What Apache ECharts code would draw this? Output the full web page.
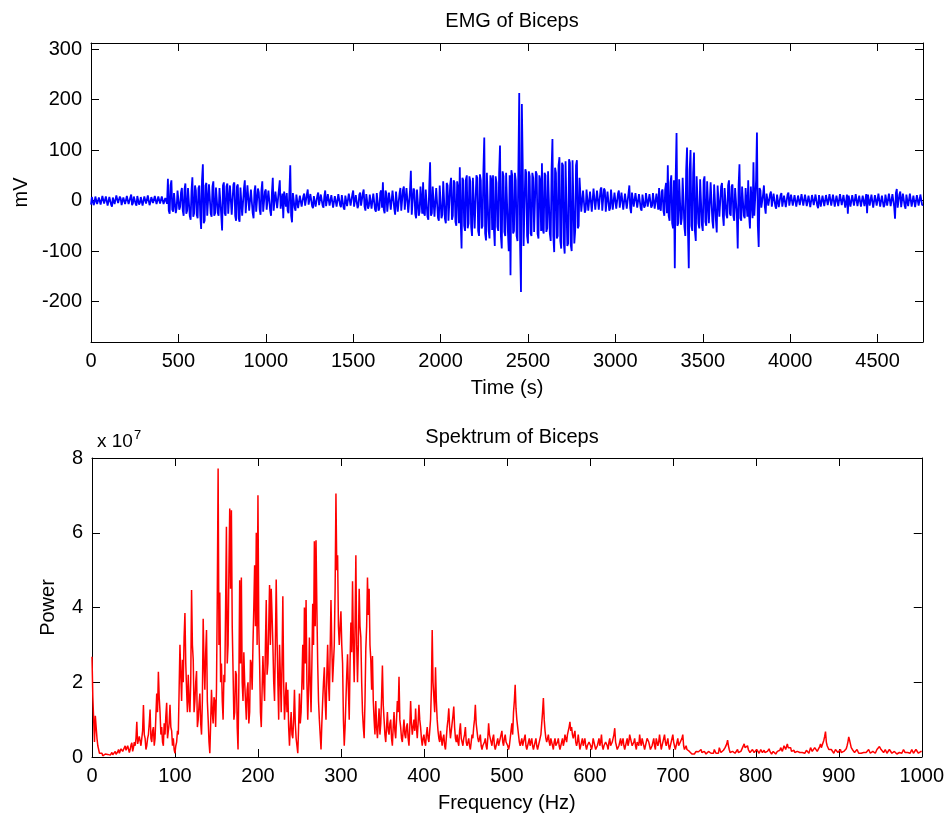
<!DOCTYPE html>
<html>
<head>
<meta charset="utf-8">
<script src="https://cdn.jsdelivr.net/npm/echarts@6/dist/echarts.min.js"></script>
<style>
  html, body { margin: 0; padding: 0; background: #fff; }
  #chart { width: 947px; height: 816px; }
</style>
</head>
<body>
<div id="chart"></div>
<script>
// ---- EMG trace (mV), one stored value every emgStep seconds, 40 values per 200 s row ----
const emgStep = 5;
const emgMv = [
  -8, 7, 6, -9, -4, 8, 9, -7, -10, 6, 7, -8, -6, 9, 10, -6, -5, 8, 8, -10, -9, 7, 5, -8, -12, 6, 9, -7, -6, 10, 11, -5, -7, 8, 4, -9, -9, 6, 8, -7,
  -6, 9, 10, -7, -8, 6, 12, -9, -5, 8, 7, -6, -10, 9, 6, -8, -4, 7, 9, -10, -11, 8, 5, -6, -7, 10, 8, -9, -3, 7, 6, -5, -8, 9, 9, -7, -5, 8, 7, -6,
  -4, 8, 6, -7, -7, 5, 5, -6, 43, -20, -26, 30, 40, -18, -22, 15, 18, -25, -15, 20, 22, -18, -12, 16, 25, -20, -30, 22, 34, -26, -20, 25, 28, -30, -38, 20, 46, -32, -25, 30,
  20, -28, -35, 25, 30, -30, -56, 40, 72, -45, -40, 30, 35, -30, -28, 32, 30, -26, -32, 28, 38, -30, -25, 26, 28, -24, -30, 25, 22, -28, -59, 30, 36, -25, -30, 28, 34, -26, -28, 30,
  30, -28, -25, 32, 36, -30, -40, 28, 32, -35, -42, 26, 25, -30, -30, 24, 40, -25, -22, 30, 28, -20, -18, 22, 20, -25, -35, 18, 30, -22, -20, 24, 16, -18, -28, 20, 38, -22, -24, 18,
  22, -18, -15, 20, 18, -20, -30, 15, 45, -20, -22, 18, 20, -15, -18, 22, 40, -16, -15, 14, -35, 18, 20, -12, 15, -20, -25, 16, 70, -30, -43, 15, 18, -14, -20, 12, 12, -15, -15, 10,
  10, -12, -12, 9, 14, -10, -9, 12, 22, -8, -10, 13, 12, -11, -15, 9, 9, -12, -11, 10, 16, -9, -8, 12, 12, -10, -14, 9, 20, -11, -9, 13, 13, -10, -12, 11, 8, -14, -16, 9,
  11, -12, -10, 13, 15, -9, -13, 11, 9, -14, -18, 10, 12, -11, -8, 14, 17, -10, -11, 12, 20, -12, -14, 11, 10, -15, -9, 12, 16, -10, -12, 14, 22, -12, -20, 13, 14, -16, -10, 12,
  15, -16, -18, 14, 12, -18, -22, 15, 18, -20, -15, 16, 20, -14, 36, -18, -25, 20, 14, -22, -20, 16, 18, -18, -16, 20, 22, -16, -28, 18, 15, -22, -20, 14, 25, -20, -18, 22, 28, -18,
  -20, 25, 22, -24, -25, 20, 59, -28, -30, 24, 20, -26, -35, 22, 25, -30, -22, 28, 30, -26, 36, -25, -30, 22, 20, -32, -38, 26, 76, -30, -25, 28, 30, -32, -35, 25, 28, -34, -40, 30,
  32, -35, -28, 38, 40, -36, -45, 35, 30, -40, -38, 32, 45, -38, -30, 40, 35, -42, -50, 38, 25, -45, 66, -40, -95, 45, 40, -50, -60, 42, 50, -55, -45, 48, 38, -52, -70, 45, 48, -55,
  -55, 50, 45, -60, -70, 52, 40, -55, -50, 60, 125, -65, -79, 55, 55, -60, -75, 50, 42, -58, 50, -55, -90, 48, 35, -52, -60, 55, 109, -70, -95, 58, 48, -62, -70, 55, 52, -60, -100, 50,
  -148, 60, 50, -65, -60, 55, 40, -70, -80, 60, 213, -90, -181, 191, 70, -90, -90, 62, 55, -70, -85, 58, 48, -65, -70, 55, 45, -62, -60, 58, 52, -66, -75, 50, 40, -60, 74, -58, -65, 55,
  50, -62, -55, 58, 60, -65, -80, 62, 122, -70, -102, 65, 55, -75, -70, 70, 86, -80, -95, 75, 70, -85, -105, 78, 80, -90, -85, 82, 75, -88, -100, 80, 82, -85, -60, 70, 80, -55, -50, 45,
  46, -22, -25, 20, 20, -24, -18, 22, 25, -20, -22, 18, 18, -22, -20, 24, 24, -18, -15, 20, 22, -18, -20, 22, 26, -20, -18, 24, 20, -22, -25, 18, 18, -20, -15, 22, 22, -18, -20, 16,
  15, -16, -18, 14, 20, -14, -12, 16, 16, -18, -20, 14, 12, -16, -15, 14, 30, -15, -25, 16, 14, -12, -10, 15, 18, -14, -12, 13, 15, -16, -20, 12, 12, -14, -10, 15, 16, -12, -14, 13,
  12, -14, -10, 15, 18, -16, -15, 14, 14, -18, 25, -15, -20, 18, 22, -20, -30, 22, 35, -25, 70, -30, -40, 35, 50, -45, -55, 40, -134, 45, 134, -50, -45, 42, 40, -48, -35, 45, 45, -52,
  -70, 60, 105, -55, -134, 60, 100, -50, -60, 55, 95, -60, -80, 48, 50, -45, -55, 42, 45, -48, -60, 40, 48, -42, -50, 38, 40, -45, -45, 36, 38, -40, -55, 32, 35, -38, -63, 30, 30, -32,
  -30, 28, 35, -30, -50, 25, 28, -28, -35, 30, 40, -26, -30, 28, 32, -30, -40, 25, 25, -28, -95, 30, 72, -35, -40, 28, 30, -30, -35, 25, 28, -32, 40, -30, -55, 28, 25, -35, 76, -30,
  -30, 40, 135, -50, -92, 25, 20, -14, -15, 12, 30, -12, -26, 14, 15, -10, -12, 13, 18, -12, -10, 14, 14, -11, -16, 12, 12, -13, -10, 11, 15, -12, -14, 10, 10, -13, -12, 12, 16, -10,
  -11, 12, 13, -10, -9, 11, 10, -12, -14, 10, 12, -9, -8, 13, 11, -10, -10, 12, 14, -11, -12, 10, 9, -13, -13, 11, 10, -9, -8, 12, 12, -10, -15, 11, 11, -12, -9, 10, 13, -11,
  -10, 11, 12, -9, -8, 13, 14, -10, -11, 12, 9, -12, -13, 10, 12, -11, -10, 13, 15, -9, -12, 11, 10, -14, -14, 12, -26, 10, 13, -12, -10, 11, 12, -10, -9, 13, 14, -11, -12, 10,
  11, -12, -13, 10, 10, -11, -12, 13, -25, 12, 14, -10, -11, 12, 9, -14, -12, 11, 13, -10, -10, 14, 15, -12, -14, 10, 11, -13, -9, 12, 12, -10, -13, 14, 16, -11, -12, 13, 10, -12,
  -36, 15, 23, -14, -15, 12, 18, -13, -12, 14, 14, -10, -16, 12, 10, -11, -13, 14, 15, -12, -11, 10, 12, -13, -14, 11, 9, -10, -12, 12, 11, -9, -8
];

// ---- Power spectrum (units of 1e7), one value every freqStep Hz, 40 values per row ----
const freqStep = 1;
const powerE7 = [
  2.68, 1.6, 1.0, 0.4, 1.1, 0.8, 0.5, 0.3, 0.2, 0.1, 0.05, 0.08, 0.1, 0.03, 0.02, 0.06, 0.08, 0.04, 0.03, 0.07, 0.1, 0.04, 0.05, 0.09, 0.12, 0.06, 0.04, 0.1, 0.15, 0.07, 0.08, 0.14, 0.2, 0.1, 0.1, 0.22, 0.25, 0.15, 0.12, 0.2,
  0.3, 0.18, 0.15, 0.3, 0.35, 0.12, 0.2, 0.32, 0.38, 0.15, 0.25, 0.4, 0.3, 0.5, 0.94, 0.35, 0.4, 0.55, 0.6, 0.3, 0.35, 0.7, 1.39, 0.6, 0.5, 0.2, 0.3, 0.5, 0.6, 0.9, 1.27, 0.5, 0.4, 0.7, 0.8, 0.3, 0.5, 1.1, 1.7, 1.2,
  2.28, 1.6, 1.2, 0.6, 0.8, 0.4, 0.3, 0.9, 0.6, 1.1, 1.45, 0.5, 0.5, 0.9, 1.4, 0.8, 0.7, 0.3, 0.5, 0.2, 0.1, 0.3, 0.4, 0.7, 0.6, 1.8, 3.0, 2.2, 1.5, 2.6, 2.0, 3.2, 3.85, 2.5, 1.8, 1.2, 2.2, 1.5, 1.2, 2.0,
  4.47, 3.0, 2.6, 1.2, 1.5, 2.0, 2.3, 0.8, 1.0, 1.4, 1.7, 0.9, 0.6, 1.5, 3.7, 2.5, 1.8, 2.8, 3.4, 1.5, 1.0, 0.4, 0.1, 0.9, 1.8, 1.2, 0.9, 1.6, 1.5, 0.8, 1.8, 4.3, 7.72, 3.0, 4.4, 2.0, 2.5, 1.5, 1.0, 2.2,
  2.0, 4.0, 6.16, 2.5, 3.0, 5.0, 6.65, 4.5, 6.6, 3.5, 2.3, 1.0, 1.2, 2.3, 2.2, 0.8, 0.2, 2.0, 4.73, 2.5, 4.8, 2.0, 1.5, 2.8, 2.0, 1.5, 1.0, 1.8, 2.0, 0.9, 1.2, 2.6, 2.5, 1.8, 3.0, 4.0, 5.13, 3.5, 6.0, 3.0,
  7.0, 3.5, 2.5, 1.2, 0.8, 1.8, 2.7, 2.0, 1.5, 3.0, 4.2, 2.2, 2.5, 3.5, 4.6, 3.0, 4.5, 3.8, 3.0, 2.0, 1.5, 3.0, 4.75, 3.2, 2.0, 1.0, 3.0, 2.2, 1.2, 2.5, 4.3, 2.0, 1.0, 1.5, 2.0, 1.2, 1.8, 0.8, 0.3, 0.8,
  1.2, 0.6, 0.5, 1.0, 1.8, 0.9, 0.5, 0.3, 0.1, 0.8, 1.7, 0.9, 1.2, 2.0, 3.0, 1.8, 4.0, 2.5, 4.2, 2.0, 1.0, 1.8, 3.2, 2.0, 1.2, 2.5, 4.1, 3.0, 5.77, 3.5, 5.8, 4.0, 2.5, 1.5, 1.0, 0.6, 0.2, 0.9, 1.5, 2.0,
  2.4, 1.5, 1.0, 2.2, 3.0, 2.0, 1.5, 2.8, 4.2, 3.0, 2.0, 2.5, 3.0, 4.5, 7.05, 5.0, 5.4, 3.5, 3.0, 3.5, 3.9, 3.0, 2.5, 1.0, 0.3, 0.8, 1.5, 2.2, 2.75, 1.8, 1.0, 2.5, 3.6, 2.8, 4.7, 3.0, 2.0, 3.5, 5.4, 3.0,
  2.0, 3.0, 4.5, 3.5, 3.2, 2.0, 1.2, 0.8, 0.5, 1.5, 2.9, 3.5, 4.8, 3.8, 4.5, 3.0, 2.6, 1.8, 2.7, 1.5, 1.0, 0.6, 1.5, 0.8, 0.5, 0.9, 1.3, 0.6, 0.9, 1.6, 2.45, 1.4, 1.0, 0.6, 0.4, 0.8, 1.2, 0.7, 0.6, 0.9,
  1.0, 0.5, 0.3, 0.8, 1.2, 0.7, 0.5, 1.0, 1.5, 1.2, 2.15, 1.0, 0.8, 0.5, 0.4, 0.7, 1.0, 0.6, 0.5, 0.8, 0.9, 0.5, 0.3, 0.8, 1.5, 0.9, 0.6, 0.8, 1.0, 0.7, 1.3, 0.8, 0.5, 0.9, 1.4, 1.0, 0.8, 0.5, 0.3, 0.5,
  0.6, 0.4, 0.3, 0.6, 0.8, 0.5, 0.4, 0.7, 1.0, 1.8, 3.4, 2.0, 1.6, 1.2, 2.4, 1.5, 1.0, 0.7, 0.5, 0.4, 0.7, 0.5, 0.3, 0.5, 0.6, 0.3, 0.2, 0.5, 0.8, 1.0, 1.3, 0.8, 0.5, 0.7, 0.9, 1.1, 1.35, 0.8, 0.5, 0.4,
  0.6, 0.4, 0.3, 0.7, 0.9, 0.5, 0.4, 0.3, 0.5, 0.6, 0.8, 0.4, 0.3, 0.4, 0.5, 0.3, 0.2, 0.4, 0.6, 0.5, 0.8, 1.0, 1.4, 0.9, 0.7, 0.5, 0.4, 0.5, 0.6, 0.3, 0.2, 0.3, 0.3, 0.4, 0.5, 0.3, 0.2, 0.5, 0.9, 0.6,
  0.5, 0.4, 0.3, 0.5, 0.6, 0.3, 0.2, 0.3, 0.4, 0.5, 0.3, 0.4, 0.5, 0.6, 0.7, 0.4, 0.3, 0.5, 0.6, 0.4, 0.4, 0.3, 0.2, 0.3, 0.5, 0.7, 0.9, 0.6, 1.2, 1.5, 1.93, 1.3, 1.0, 0.8, 0.6, 0.4, 0.3, 0.4, 0.5, 0.3,
  0.4, 0.5, 0.6, 0.3, 0.2, 0.3, 0.4, 0.5, 0.3, 0.4, 0.5, 0.3, 0.2, 0.3, 0.4, 0.5, 0.3, 0.2, 0.2, 0.4, 0.5, 0.6, 0.9, 1.2, 1.58, 1.0, 0.7, 0.5, 0.4, 0.5, 0.6, 0.4, 0.3, 0.5, 0.4, 0.3, 0.2, 0.4, 0.5, 0.3,
  0.3, 0.4, 0.5, 0.3, 0.2, 0.3, 0.4, 0.5, 0.3, 0.4, 0.6, 0.5, 0.4, 0.6, 0.7, 0.8, 0.94, 0.7, 0.8, 0.6, 0.5, 0.6, 0.7, 0.4, 0.3, 0.4, 0.6, 0.4, 0.2, 0.3, 0.4, 0.5, 0.3, 0.4, 0.5, 0.3, 0.2, 0.3, 0.3, 0.4,
  0.4, 0.3, 0.2, 0.3, 0.5, 0.4, 0.3, 0.2, 0.2, 0.3, 0.4, 0.5, 0.3, 0.4, 0.6, 0.3, 0.2, 0.3, 0.3, 0.4, 0.4, 0.3, 0.2, 0.4, 0.5, 0.3, 0.3, 0.4, 0.4, 0.6, 0.77, 0.4, 0.3, 0.2, 0.2, 0.3, 0.4, 0.5, 0.3, 0.4,
  0.5, 0.3, 0.2, 0.3, 0.4, 0.5, 0.3, 0.4, 0.6, 0.5, 0.4, 0.3, 0.3, 0.4, 0.5, 0.3, 0.2, 0.4, 0.4, 0.3, 0.6, 0.4, 0.3, 0.5, 0.5, 0.3, 0.2, 0.3, 0.4, 0.5, 0.5, 0.4, 0.3, 0.2, 0.2, 0.3, 0.4, 0.5, 0.3, 0.2,
  0.5, 0.4, 0.3, 0.4, 0.6, 0.4, 0.2, 0.3, 0.4, 0.5, 0.6, 0.4, 0.3, 0.4, 0.5, 0.3, 0.2, 0.3, 0.4, 0.5, 0.6, 0.4, 0.3, 0.2, 0.2, 0.4, 0.5, 0.3, 0.3, 0.4, 0.4, 0.5, 0.6, 0.3, 0.2, 0.2, 0.3, 0.2, 0.2, 0.15,
  0.15, 0.12, 0.1, 0.08, 0.12, 0.1, 0.08, 0.12, 0.15, 0.1, 0.1, 0.14, 0.12, 0.15, 0.2, 0.12, 0.1, 0.08, 0.15, 0.12, 0.08, 0.1, 0.12, 0.15, 0.18, 0.12, 0.1, 0.12, 0.15, 0.1, 0.2, 0.15, 0.1, 0.12, 0.15, 0.1, 0.25, 0.18, 0.12, 0.1,
  0.15, 0.18, 0.2, 0.25, 0.3, 0.35, 0.45, 0.3, 0.2, 0.12, 0.1, 0.12, 0.15, 0.1, 0.12, 0.1, 0.1, 0.15, 0.2, 0.12, 0.12, 0.1, 0.15, 0.2, 0.25, 0.3, 0.35, 0.25, 0.2, 0.22, 0.3, 0.2, 0.15, 0.12, 0.1, 0.15, 0.2, 0.15, 0.12, 0.1,
  0.15, 0.2, 0.25, 0.15, 0.1, 0.15, 0.2, 0.15, 0.12, 0.15, 0.18, 0.12, 0.1, 0.12, 0.15, 0.2, 0.22, 0.15, 0.1, 0.08, 0.12, 0.15, 0.2, 0.12, 0.08, 0.1, 0.15, 0.12, 0.1, 0.18, 0.25, 0.2, 0.15, 0.2, 0.3, 0.25, 0.2, 0.28, 0.35, 0.25,
  0.2, 0.22, 0.25, 0.15, 0.12, 0.15, 0.18, 0.12, 0.1, 0.12, 0.15, 0.18, 0.2, 0.12, 0.1, 0.08, 0.12, 0.1, 0.08, 0.1, 0.15, 0.18, 0.2, 0.15, 0.1, 0.15, 0.25, 0.2, 0.15, 0.18, 0.2, 0.25, 0.3, 0.2, 0.15, 0.18, 0.2, 0.28, 0.35, 0.25,
  0.2, 0.3, 0.45, 0.55, 0.68, 0.4, 0.3, 0.25, 0.2, 0.18, 0.15, 0.2, 0.25, 0.15, 0.1, 0.15, 0.2, 0.18, 0.15, 0.12, 0.12, 0.15, 0.2, 0.12, 0.1, 0.12, 0.15, 0.18, 0.18, 0.22, 0.3, 0.4, 0.54, 0.45, 0.35, 0.25, 0.2, 0.18, 0.15, 0.12,
  0.12, 0.15, 0.2, 0.15, 0.1, 0.12, 0.15, 0.1, 0.08, 0.1, 0.12, 0.1, 0.1, 0.12, 0.15, 0.12, 0.2, 0.15, 0.1, 0.08, 0.12, 0.15, 0.15, 0.12, 0.1, 0.15, 0.2, 0.18, 0.25, 0.28, 0.3, 0.2, 0.15, 0.18, 0.12, 0.15, 0.2, 0.15, 0.1, 0.12,
  0.15, 0.2, 0.25, 0.15, 0.1, 0.12, 0.12, 0.15, 0.2, 0.1, 0.08, 0.1, 0.1, 0.12, 0.15, 0.12, 0.1, 0.15, 0.2, 0.15, 0.12, 0.1, 0.08, 0.12, 0.15, 0.12, 0.1, 0.15, 0.2, 0.15, 0.1, 0.12, 0.15, 0.2, 0.25, 0.15, 0.1, 0.12, 0.12, 0.15,
  0.15
];

// ---- Tick labels ----
const timeTicks = [0, 500, 1000, 1500, 2000, 2500, 3000, 3500, 4000, 4500];
const mvTicks = [-200, -100, 0, 100, 200, 300];

const FONT = 'Liberation Sans, Arial, Helvetica, sans-serif';
const INK = '#000';

const emgData = emgMv.map((v, i) => [i * emgStep, v]);
const powerData = powerE7.map((v, i) => [i * freqStep, v]);

const lineStyle = { color: INK, width: 1 };
const tickStyle = { show: true, inside: true, length: 8, lineStyle: { color: INK, width: 1 } };
const labelStyle = { color: INK, fontFamily: FONT, fontSize: 20, margin: 9, formatter: v => String(v) };
const nameStyle = { color: INK, fontFamily: FONT, fontSize: 20 };

function frameAxis(base, extra) {
  return Object.assign({
    type: 'value',
    axisLine: { show: true, onZero: false, lineStyle },
    splitLine: { show: false },
    axisLabel: { show: false },
    axisTick: tickStyle
  }, base, extra);
}

const option = {
  animation: false,
  backgroundColor: '#fff',
  title: [
    { text: 'EMG of Biceps', left: 507, top: 6, textAlign: 'center',
      textStyle: { color: INK, fontFamily: FONT, fontSize: 20, fontWeight: 'normal' } },
    { text: 'Spektrum of Biceps', left: 507, top: 422, textAlign: 'center',
      textStyle: { color: INK, fontFamily: FONT, fontSize: 20, fontWeight: 'normal' } },
    { text: 'x 10{s|7}', left: 92, top: 424,
      textStyle: { color: INK, fontFamily: FONT, fontSize: 19, fontWeight: 'normal',
        rich: { s: { fontFamily: FONT, fontSize: 13, color: INK, verticalAlign: 'top', padding: [0, 0, 12, 1] } } } }
  ],
  grid: [
    { left: 91, right: 24, top: 43, height: 299, containLabel: false },
    { left: 92, right: 24, top: 458, height: 299, containLabel: false }
  ],
  xAxis: [
    frameAxis({ gridIndex: 0, position: 'bottom', min: 0, max: 4760 }, {
      axisLabel: Object.assign({ show: true, customValues: timeTicks }, labelStyle),
      axisTick: Object.assign({ customValues: timeTicks }, tickStyle),
      name: 'Time (s)', nameLocation: 'middle', nameGap: 36, nameTextStyle: nameStyle
    }),
    frameAxis({ gridIndex: 0, position: 'top', min: 0, max: 4760 }, {
      axisTick: Object.assign({ customValues: timeTicks }, tickStyle)
    }),
    frameAxis({ gridIndex: 1, position: 'bottom', min: 0, max: 1000, interval: 100 }, {
      axisLabel: Object.assign({ show: true }, labelStyle),
      name: 'Frequency (Hz)', nameLocation: 'middle', nameGap: 36, nameTextStyle: nameStyle
    }),
    frameAxis({ gridIndex: 1, position: 'top', min: 0, max: 1000, interval: 100 })
  ],
  yAxis: [
    frameAxis({ gridIndex: 0, position: 'left', min: -280, max: 312 }, {
      axisLabel: Object.assign({ show: true, customValues: mvTicks }, labelStyle),
      axisTick: Object.assign({ customValues: mvTicks }, tickStyle),
      name: 'mV', nameLocation: 'middle', nameGap: 56, nameTextStyle: nameStyle
    }),
    frameAxis({ gridIndex: 0, position: 'right', min: -280, max: 312 }, {
      axisTick: Object.assign({ customValues: mvTicks }, tickStyle)
    }),
    frameAxis({ gridIndex: 1, position: 'left', min: 0, max: 8, interval: 2 }, {
      axisLabel: Object.assign({ show: true }, labelStyle),
      name: 'Power', nameLocation: 'middle', nameGap: 34, nameTextStyle: nameStyle
    }),
    frameAxis({ gridIndex: 1, position: 'right', min: 0, max: 8, interval: 2 })
  ],
  series: [
    {
      name: 'EMG', type: 'line', xAxisIndex: 0, yAxisIndex: 0,
      data: emgData, showSymbol: false, symbol: 'none',
      lineStyle: { color: '#0000ff', width: 1.8 }, z: 1
    },
    {
      name: 'Power', type: 'line', xAxisIndex: 2, yAxisIndex: 2,
      data: powerData, showSymbol: false, symbol: 'none',
      lineStyle: { color: '#ff0000', width: 1.5 }, z: 1
    }
  ]
};

const chart = echarts.init(document.getElementById('chart'), null, { renderer: 'canvas' });
chart.setOption(option);
</script>
</body>
</html>
